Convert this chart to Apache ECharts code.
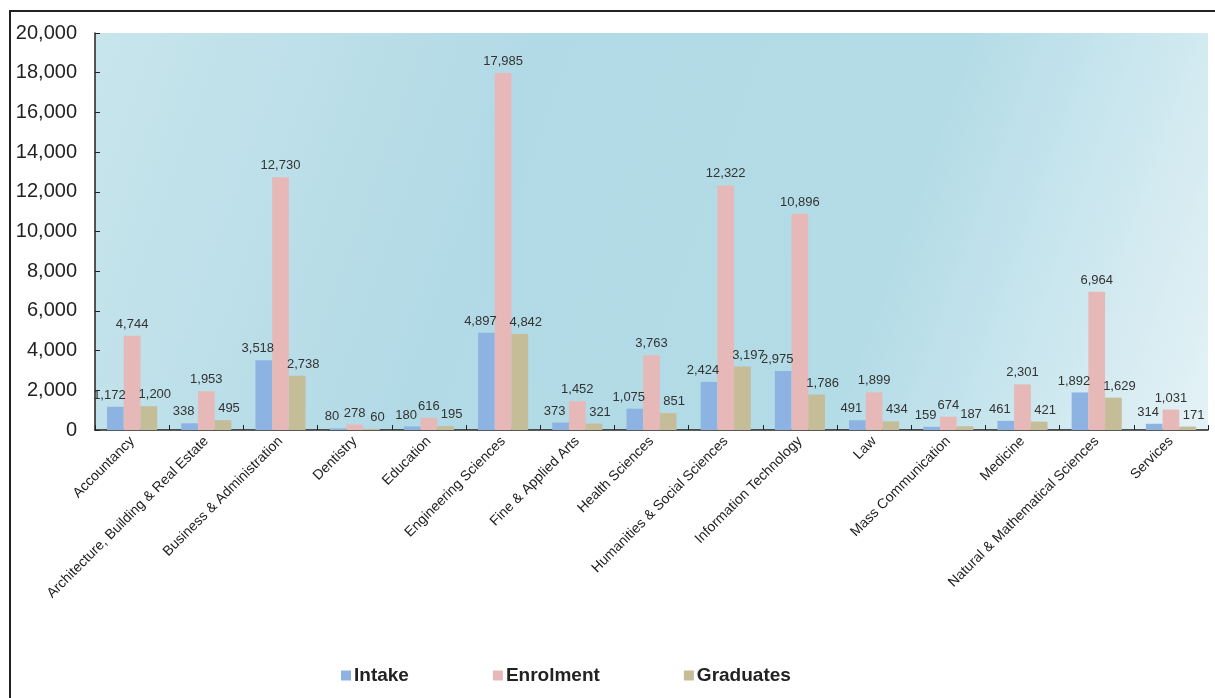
<!DOCTYPE html>
<html><head><meta charset="utf-8">
<script src="https://cdn.jsdelivr.net/npm/echarts@6/dist/echarts.min.js"></script>
<style>html,body{margin:0;padding:0;background:#fff}#c{width:1215px;height:698px}</style>
</head><body><div id="c"></div>
<script>
const categories = ["Accountancy","Architecture, Building & Real Estate","Business & Administration","Dentistry","Education","Engineering Sciences","Fine & Applied Arts","Health Sciences","Humanities & Social Sciences","Information Technology","Law","Mass Communication","Medicine","Natural & Mathematical Sciences","Services"];
const intake = [1172,338,3518,80,180,4897,373,1075,2424,2975,491,159,461,1892,314];
const enrolment = [4744,1953,12730,278,616,17985,1452,3763,12322,10896,1899,674,2301,6964,1031];
const graduates = [1200,495,2738,60,195,4842,321,851,3197,1786,434,187,421,1629,171];
const seriesNames = ["Intake","Enrolment","Graduates"];
const colors = ["#8db3e2","#e6b9b8","#c4bd97"];

const chart = echarts.init(document.getElementById('c'), null, {renderer:'canvas'});
const fmt = v => v.toLocaleString('en-US');
function mk(name, data, color, dx){
  return {
    name, type:'bar', data, barWidth:16.7, barGap:'0%',
    itemStyle:{color},
    label:{show:true, position:'top', distance:5, offset:[dx,0], color:'#333', fontSize:13,
      fontFamily:'Arial, Liberation Sans, sans-serif', formatter:p=>fmt(p.value)}
  };
}
chart.setOption({
  animation:false,
  color: colors,
  graphic:[{type:'rect', shape:{x:10,y:11,width:1300,height:800}, style:{fill:'none', stroke:'#222', lineWidth:2}, z:-10, silent:true}],
  grid:{left:95, right:7, top:33, bottom:268, show:true, borderWidth:0,
    backgroundColor: new echarts.graphic.LinearGradient(0,0,1,1,[
      {offset:0,color:'#c8e5ec'},{offset:0.35,color:'#b2dae6'},{offset:0.7,color:'#b4dce7'},{offset:1,color:'#e4f2f6'}])},
  legend:{top:666, left:341, padding:0, itemWidth:10, itemHeight:10, itemGap:84, icon:'rect',
    data:seriesNames,
    textStyle:{fontSize:19, fontWeight:'bold', color:'#222', fontFamily:'Liberation Sans Narrow, Arial Narrow, Arial, sans-serif', padding:[0,0,0,-2]}},
  xAxis:{type:'category', data:categories,
    axisLine:{lineStyle:{color:'#222', width:1.5}},
    axisTick:{show:true, inside:true, length:5, lineStyle:{color:'#222'}},
    axisLabel:{interval:0, rotate:45, fontSize:14, color:'#222', margin:9, fontFamily:'Arial, Liberation Sans, sans-serif'}},
  yAxis:{type:'value', min:0, max:20000, interval:2000,
    axisLine:{show:true, lineStyle:{color:'#222', width:1.5}},
    axisTick:{show:true, inside:true, length:5, lineStyle:{color:'#222'}},
    splitLine:{show:false},
    axisLabel:{fontSize:20, color:'#222', margin:18, fontFamily:'Arial, Liberation Sans, sans-serif', formatter:v=>fmt(v)}},
  series:[mk(seriesNames[0],intake,colors[0],-6), mk(seriesNames[1],enrolment,colors[1],0), mk(seriesNames[2],graduates,colors[2],6)]
});
</script></body></html>
